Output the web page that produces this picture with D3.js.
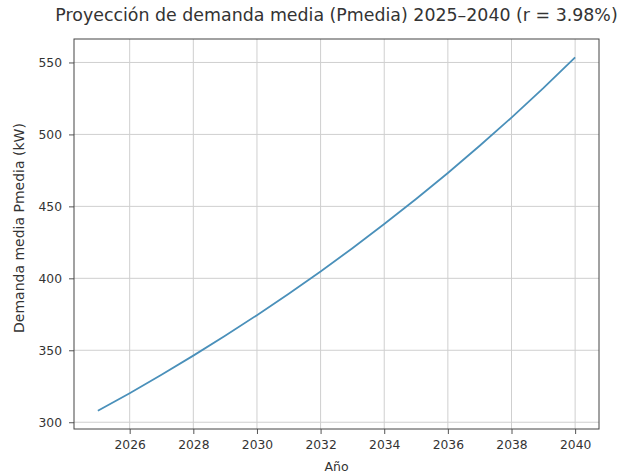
<!DOCTYPE html>
<html>
<head>
<meta charset="utf-8">
<script src="https://cdn.jsdelivr.net/npm/d3@7"></script>
<style>
  body { margin: 0; background: #fff; }
  svg text { font-family: "DejaVu Sans", sans-serif; fill: #333; }
</style>
</head>
<body>
<div id="chart"></div>
<script>
var years = [2025, 2026, 2027, 2028, 2029, 2030, 2031, 2032, 2033, 2034, 2035, 2036, 2037, 2038, 2039, 2040];
var pmedia = [308.0, 320.2, 333.0, 346.3, 360.1, 374.4, 389.3, 404.8, 420.9, 437.7, 455.1, 473.2, 492.1, 511.7, 532.1, 553.5];
var xTicks = [2026, 2028, 2030, 2032, 2034, 2036, 2038, 2040];
var yTicks = [300, 350, 400, 450, 500, 550];

var W = 619, H = 473;
var m = {left: 74, right: 20, top: 39, bottom: 44};

var svg = d3.select("#chart").append("svg")
  .attr("width", W)
  .attr("height", H);

var x = d3.scaleLinear()
  .domain([2024.25, 2040.75])
  .range([m.left, W - m.right]);

var y = d3.scaleLinear()
  .domain([295.3, 566.3])
  .range([H - m.bottom, m.top]);

// grid
svg.append("g")
  .selectAll("line.gx")
  .data(xTicks)
  .enter()
  .append("line")
  .attr("x1", function(d) { return x(d); })
  .attr("x2", function(d) { return x(d); })
  .attr("y1", m.top)
  .attr("y2", H - m.bottom)
  .attr("stroke", "#cfcfcf")
  .attr("stroke-width", 1);

svg.append("g")
  .selectAll("line.gy")
  .data(yTicks)
  .enter()
  .append("line")
  .attr("x1", m.left)
  .attr("x2", W - m.right)
  .attr("y1", function(d) { return y(d); })
  .attr("y2", function(d) { return y(d); })
  .attr("stroke", "#cfcfcf")
  .attr("stroke-width", 1);

// line
var line = d3.line()
  .x(function(d, i) { return x(years[i]); })
  .y(function(d) { return y(d); });

svg.append("path")
  .datum(pmedia)
  .attr("d", line)
  .attr("fill", "none")
  .attr("stroke", "#4a90ba")
  .attr("stroke-width", 1.8);

// axes
var xAxis = d3.axisBottom(x).tickValues(xTicks).tickFormat(d3.format("d")).tickSize(5).tickPadding(6);
var yAxis = d3.axisLeft(y).tickValues(yTicks).tickSize(5).tickPadding(7);

var gx = svg.append("g")
  .attr("transform", "translate(0," + (H - m.bottom) + ")")
  .call(xAxis);
var gy = svg.append("g")
  .attr("transform", "translate(" + m.left + ",0)")
  .call(yAxis);

[gx, gy].forEach(function(g) {
  g.select(".domain").remove();
  g.selectAll("line").attr("stroke", "#555");
  g.selectAll("text").attr("font-size", "12.3px").attr("fill", "#333")
    .attr("font-family", "DejaVu Sans, sans-serif");
});

// frame
svg.append("rect")
  .attr("x", m.left)
  .attr("y", m.top)
  .attr("width", W - m.right - m.left)
  .attr("height", H - m.bottom - m.top)
  .attr("fill", "none")
  .attr("stroke", "#444")
  .attr("stroke-width", 1);

// title & labels
var cx = (m.left + W - m.right) / 2;
svg.append("text")
  .attr("x", cx)
  .attr("y", 21)
  .attr("text-anchor", "middle")
  .attr("font-size", "17.4px")
  .text("Proyección de demanda media (Pmedia) 2025–2040 (r = 3.98%)");

svg.append("text")
  .attr("x", cx)
  .attr("y", 471)
  .attr("text-anchor", "middle")
  .attr("font-size", "12.5px")
  .text("Año");

svg.append("text")
  .attr("transform", "translate(24,228) rotate(-90)")
  .attr("text-anchor", "middle")
  .attr("font-size", "14px")
  .text("Demanda media Pmedia (kW)");
</script>
</body>
</html>
